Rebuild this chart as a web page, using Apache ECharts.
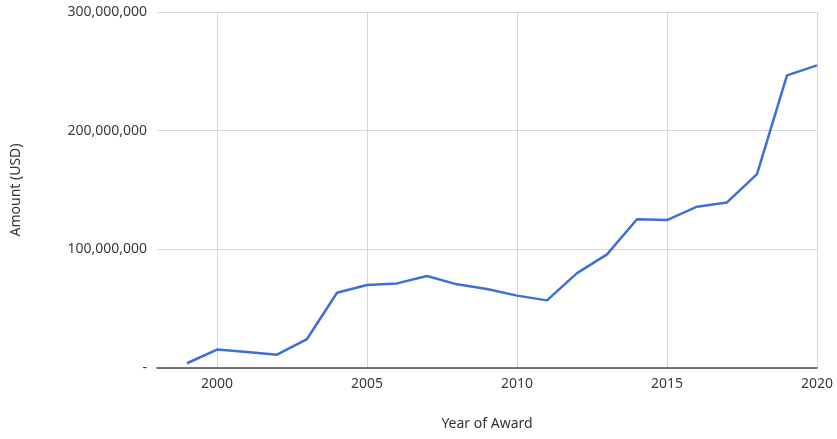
<!DOCTYPE html>
<html>
<head>
<meta charset="utf-8">
<script src="https://cdn.jsdelivr.net/npm/echarts@6/dist/echarts.min.js"></script>
<style>
html,body{margin:0;padding:0;background:#fff;}
#chart{width:837px;height:439px;}
</style>
</head>
<body>
<div id="chart"></div>
<script>
// years on the x axis (1998 is only padding at the left edge)
const years = ['1998','1999','2000','2001','2002','2003','2004','2005','2006','2007','2008','2009',
  '2010','2011','2012','2013','2014','2015','2016','2017','2018','2019','2020'];
// award amount per year, USD
const amounts = [null, 4000000, 15500000, 13500000, 11200000, 24400000, 63400000, 70000000, 71300000,
  77500000, 70500000, 66500000, 61000000, 57000000, 80000000, 95800000, 125300000, 124700000,
  135900000, 139500000, 163400000, 246600000, 255000000];
const yTicks = [0, 100000000, 200000000, 300000000];

const labelFont = 'Noto Sans';
let chart = echarts.init(document.getElementById('chart'));

function fmtAmount(v){
    if(v === 0) return '-';
    return v.toLocaleString('en-US');
}

let option = {
    animation: false,
    grid: { left: 157, right: 20, top: 12, bottom: 71 },
    xAxis: {
        type: 'category',
        data: years,
        boundaryGap: false,
        name: 'Year of Award',
        nameLocation: 'middle',
        nameGap: 49,
        nameTextStyle: { color: '#333', fontSize: 14, fontFamily: labelFont },
        axisLine: { lineStyle: { color: '#4a4a4a', width: 1.5 } },
        axisTick: { show: false },
        axisLabel: {
            color: '#3a3a3a', fontSize: 14, fontFamily: labelFont, margin: 9,
            interval: function(i, v){ return Number(v) % 5 === 0; }
        },
        splitLine: {
            show: true,
            interval: function(i, v){ return Number(v) % 5 === 0; },
            lineStyle: { color: '#d6d6d6', width: 1 }
        }
    },
    yAxis: {
        type: 'value',
        min: yTicks[0],
        max: yTicks[yTicks.length - 1],
        interval: 100000000,
        name: 'Amount (USD)',
        nameLocation: 'middle',
        nameGap: 134,
        nameTextStyle: { color: '#333', fontSize: 14, fontFamily: labelFont },
        axisLine: { show: false },
        axisTick: { show: false },
        axisLabel: { color: '#3a3a3a', fontSize: 14, fontFamily: labelFont, margin: 10, formatter: fmtAmount },
        splitLine: { lineStyle: { color: '#d6d6d6', width: 1 } }
    },
    series: [{
        type: 'line',
        data: amounts,
        symbol: 'none',
        lineStyle: { color: '#3d6fd6', width: 2.5 },
        itemStyle: { color: '#3d6fd6' }
    }]
};
chart.setOption(option);
</script>
</body>
</html>
